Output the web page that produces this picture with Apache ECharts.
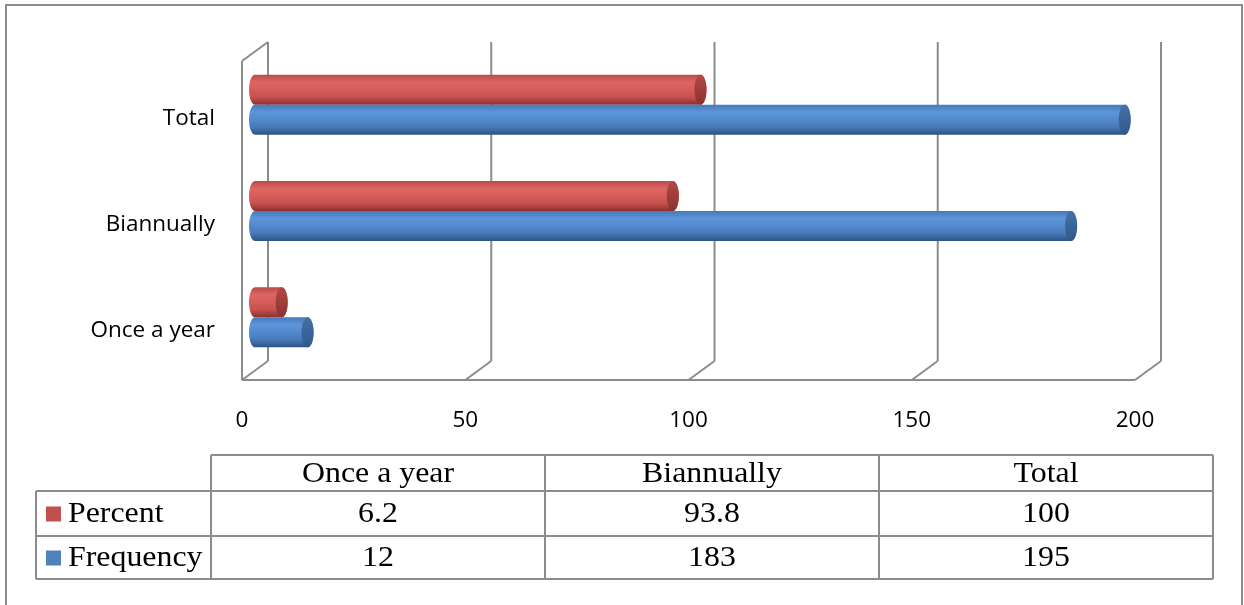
<!DOCTYPE html>
<html>
<head>
<meta charset="utf-8">
<script src="https://cdn.jsdelivr.net/npm/echarts@6/dist/echarts.min.js"></script>
<style>
  html, body { margin: 0; padding: 0; background: #fff; }
  #chart { width: 1244px; height: 605px; }
</style>
</head>
<body>
<div id="chart"></div>
<script>
// Survey responses: how often, as frequency and percent
const categories = ['Once a year', 'Biannually', 'Total'];
const percent = [6.2, 93.8, 100];
const frequency = [12, 183, 195];
const xTicks = [0, 50, 100, 150, 200];
const seriesNames = ['Percent', 'Frequency'];

// Front plane of the 3D box; back wall sits DEPTH_X / DEPTH_Y behind it
const DEPTH_X = 26, DEPTH_Y = -19;
const BAR_H = 30;
const CAP_RX = 6;
const WALL = '#8c8c8c';

const looks = {
  Percent: {
    body: ['#b94b48', '#dd6562', '#d65d5a', '#c4514e', '#8a302e'],
    cap: ['#b24845', '#8c3230'],
    swatch: '#c0504d'
  },
  Frequency: {
    body: ['#467ab8', '#5d95da', '#5389cc', '#4679b8', '#2c5384'],
    cap: ['#4571a8', '#30598b'],
    swatch: '#4f81bd'
  }
};

function ellipsePts(cx, cy, rx, ry, a0, a1, n) {
  const pts = [];
  for (let i = 0; i <= n; i++) {
    const t = a0 + (a1 - a0) * i / n;
    pts.push([cx + rx * Math.cos(t), cy + ry * Math.sin(t)]);
  }
  return pts;
}

function vGrad(colors) {
  return {
    type: 'linear', x: 0, y: 0, x2: 0, y2: 1, global: false,
    colorStops: colors.map((c, i) => ({ offset: i / (colors.length - 1), color: c }))
  };
}

// Horizontal cylinder, drawn in the middle depth plane of the box
function cylinder(look, offset) {
  return function (params, api) {
    const cat = api.value(0);
    const val = api.value(1);
    const p0 = api.coord([0, cat]);
    const p1 = api.coord([val, cat]);
    const x0 = p0[0] + DEPTH_X / 2;
    const x1 = p1[0] + DEPTH_X / 2 - 1;
    const yc = p0[1] + DEPTH_Y / 2 + offset;
    const ry = BAR_H / 2;
    const outline = ellipsePts(x1, yc, CAP_RX, ry, -Math.PI / 2, Math.PI / 2, 24)
      .concat(ellipsePts(x0, yc, CAP_RX, ry, Math.PI / 2, Math.PI * 1.5, 24));
    const cap = ellipsePts(x1, yc, CAP_RX, ry, 0, Math.PI * 2, 48);
    return {
      type: 'group',
      children: [
        { type: 'polygon', shape: { points: outline }, style: { fill: vGrad(look.body) } },
        { type: 'polygon', shape: { points: cap }, style: { fill: vGrad(look.cap) } }
      ]
    };
  };
}

// Back-wall grid lines, floor edges and the left wall
function walls(params, api) {
  const cs = params.coordSys;
  const x = api.coord([api.value(0), 0])[0];
  const top = cs.y, bot = cs.y + cs.height;
  const ls = { stroke: WALL, lineWidth: 2 };
  const children = [
    { type: 'line', shape: { x1: x + DEPTH_X, y1: top + DEPTH_Y, x2: x + DEPTH_X, y2: bot + DEPTH_Y }, style: ls },
    { type: 'line', shape: { x1: x + DEPTH_X, y1: bot + DEPTH_Y, x2: x, y2: bot }, style: ls }
  ];
  if (params.dataIndex === 0) {
    children.push(
      { type: 'line', shape: { x1: x, y1: top, x2: x, y2: bot }, style: ls },
      { type: 'line', shape: { x1: x, y1: top, x2: x + DEPTH_X, y2: top + DEPTH_Y }, style: ls },
      { type: 'line', shape: { x1: x, y1: bot, x2: cs.x + cs.width, y2: bot }, style: ls }
    );
  }
  return { type: 'group', children };
}

// Data table under the chart
const tableRows = [
  { name: seriesNames[0], values: percent, color: looks.Percent.swatch },
  { name: seriesNames[1], values: frequency, color: looks.Frequency.swatch }
];
const T = { left: 36, key: 211, right: 1213, top: 455, rows: [491, 536, 579] };
const colW = (T.right - T.key) / categories.length;
const serif = { fontFamily: 'Liberation Serif', fontSize: 29.5, fill: '#000' };
const SERIF_SX = 1.08;

const tableEls = [];
const tl = (x1, y1, x2, y2) => tableEls.push({
  type: 'line', shape: { x1, y1, x2, y2 }, style: { stroke: WALL, lineWidth: 2 }
});
tl(T.key, T.top, T.right, T.top);
T.rows.forEach(y => tl(T.left, y, T.right, y));
tl(T.left, T.rows[0], T.left, T.rows[2]);
for (let i = 0; i <= categories.length; i++) {
  const x = T.key + colW * i;
  tl(x, T.top, x, T.rows[2]);
}
const rowMid = [(T.top + T.rows[0]) / 2, (T.rows[0] + T.rows[1]) / 2, (T.rows[1] + T.rows[2]) / 2];
const cellText = (text, x, y, align) => ({
  type: 'text', x, y, scaleX: SERIF_SX,
  style: Object.assign({ text, align, verticalAlign: 'middle' }, serif)
});
categories.forEach((c, i) => {
  tableEls.push(cellText(c, T.key + colW * (i + 0.5), rowMid[0] + 1, 'center'));
});
tableRows.forEach((r, ri) => {
  const y = rowMid[ri + 1] + 1;
  tableEls.push({ type: 'rect', shape: { x: 46, y: y - 8, width: 15, height: 15 }, style: { fill: r.color } });
  tableEls.push(cellText(r.name, 68, y, 'left'));
  r.values.forEach((v, i) => {
    tableEls.push(cellText(String(v), T.key + colW * (i + 0.5), y, 'center'));
  });
});

const chart = echarts.init(document.getElementById('chart'), null, { renderer: 'canvas' });
chart.setOption({
  animation: false,
  backgroundColor: '#fff',
  grid: { left: 242, right: 109, top: 61, bottom: 225 },
  xAxis: {
    type: 'value', min: 0, max: 200, interval: 50,
    axisLine: { show: false }, axisTick: { show: false }, splitLine: { show: false },
    axisLabel: { color: '#000', fontFamily: 'Open Sans', fontSize: 22.5, margin: 29,
      formatter: v => xTicks.includes(v) ? String(v) : '' }
  },
  yAxis: {
    type: 'category', data: categories,
    axisLine: { show: false }, axisTick: { show: false }, splitLine: { show: false },
    axisLabel: { color: '#000', fontFamily: 'Open Sans', fontSize: 22.5, margin: 27,
      verticalAlign: 'top', lineHeight: 8 }
  },
  series: [
    {
      type: 'custom', name: 'walls', silent: true, z: 1,
      data: xTicks.map(v => [v, 0]), encode: { x: 0, y: 1 },
      renderItem: walls
    },
    {
      type: 'custom', name: seriesNames[0], z: 2,
      data: categories.map((c, i) => [i, percent[i]]), encode: { x: 1, y: 0 },
      renderItem: cylinder(looks.Percent, -BAR_H / 2)
    },
    {
      type: 'custom', name: seriesNames[1], z: 3,
      data: categories.map((c, i) => [i, frequency[i]]), encode: { x: 1, y: 0 },
      renderItem: cylinder(looks.Frequency, BAR_H / 2)
    }
  ],
  graphic: [
    { type: 'rect', silent: true, shape: { x: 6, y: 5, width: 1236, height: 620 },
      style: { fill: 'none', stroke: WALL, lineWidth: 2 } },
    { type: 'group', silent: true, children: tableEls }
  ]
});
</script>
</body>
</html>
